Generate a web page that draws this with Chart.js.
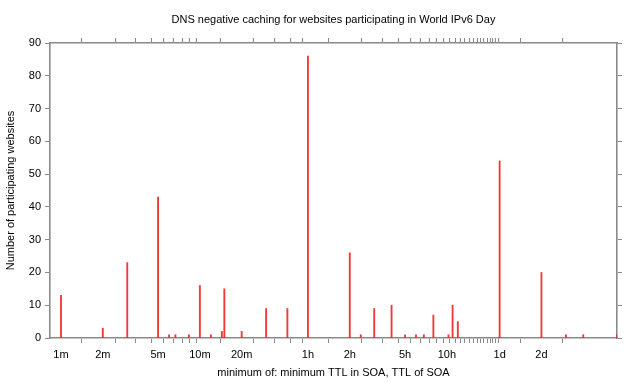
<!DOCTYPE html>
<html>
<head>
<meta charset="utf-8">
<script src="https://cdn.jsdelivr.net/npm/chart.js@4/dist/chart.umd.min.js"></script>
<style>
html,body{margin:0;padding:0;background:#fff;}
canvas{display:block;}
</style>
</head>
<body>
<canvas id="c" width="640" height="384"></canvas>
<script>
// TTL values (seconds) and number of websites with that negative-caching TTL
const ttlSeconds = [60,120,180,300,360,400,500,600,720,864,900,1200,1800,2560,3600,7200,8640,10800,14400,18000,21600,24600,28800,37000,39600,43200,86400,172800,259200,345600,604800];
const websiteCounts = [13,3,23,43,1,1,1,16,1,2,15,2,9,9,86,26,1,9,10,1,1,1,7,1,10,5,54,20,1,1,1];

// tick positions (seconds) and labels
const tickSeconds = [60,120,180,240,300,360,420,480,540,600,1200,1800,2400,3000,
  3600,7200,10800,14400,18000,21600,25200,28800,32400,36000,39600,43200,46800,50400,54000,57600,61200,64800,68400,72000,75600,79200,82800,86400,172800];
const tickLabelValues = [60,120,300,600,1200,3600,7200,18000,36000,86400,172800];
const tickLabelTexts = ['1m','2m','5m','10m','20m','1h','2h','5h','10h','1d','2d'];
const yTicks = [0,10,20,30,40,50,60,70,80,90];

const X_MIN = 50, X_MAX = 604800;
const FONT = "'Liberation Sans', Arial, Helvetica, sans-serif";
const AXIS = '#8a8a8a';

function labelFor(v){
  const i = tickLabelValues.indexOf(v);
  return i >= 0 ? tickLabelTexts[i] : '';
}
function setTicks(scale){
  scale.ticks = tickSeconds.map(v => ({value: v}));
}
const gridCfg = {display:true, drawOnChartArea:false, drawTicks:true, tickLength:5, color:AXIS, lineWidth:1};
const borderCfg = {display:true, color:AXIS, width:1.6};

new Chart(document.getElementById('c'), {
  type: 'bar',
  data: {
    datasets: [{
      data: ttlSeconds.map((t,i) => ({x:t, y:websiteCounts[i]})),
      backgroundColor: 'rgba(240,20,20,0.85)',
      borderWidth: 0,
      barThickness: 1.2,
      xAxisID: 'x',
      yAxisID: 'y'
    }]
  },
  options: {
    responsive: false,
    animation: false,
    devicePixelRatio: 1,
    layout: {padding: 0},
    plugins: {legend:{display:false}, tooltip:{enabled:false}, title:{display:false}},
    scales: {
      x: {
        type: 'logarithmic', position: 'bottom', min: X_MIN, max: X_MAX,
        afterBuildTicks: setTicks,
        afterFit: s => { s.height = 46; },
        grid: gridCfg, border: borderCfg,
        ticks: {autoSkip:false, maxRotation:0, minRotation:0, padding:5, color:'#000',
          font:{family:FONT, size:11}, callback: v => labelFor(v)},
        title: {display:true, text:'minimum of: minimum TTL in SOA, TTL of SOA', color:'#000',
          font:{family:FONT, size:11}, padding:{top:0, bottom:4}}
      },
      x2: {
        type: 'logarithmic', position: 'top', min: X_MIN, max: X_MAX,
        afterBuildTicks: setTicks,
        afterFit: s => { s.height = 43; },
        grid: gridCfg, border: borderCfg,
        ticks: {autoSkip:false, maxRotation:0, minRotation:0, padding:0, color:'#000',
          font:{family:FONT, size:11}, callback: () => ''},
        title: {display:true, text:'DNS negative caching for websites participating in World IPv6 Day', color:'#000',
          font:{family:FONT, size:11}, padding:{top:13, bottom:0}}
      },
      y: {
        type: 'linear', position: 'left', min: 0, max: 90,
        afterBuildTicks: s => { s.ticks = yTicks.map(v => ({value:v})); },
        afterFit: s => { s.width = 50; },
        grid: gridCfg, border: borderCfg,
        ticks: {padding:4, color:'#000', font:{family:FONT, size:11}},
        title: {display:true, text:'Number of participating websites', color:'#000',
          font:{family:FONT, size:11}, padding:{top:4, bottom:0}}
      },
      y2: {
        type: 'linear', position: 'right', min: 0, max: 90,
        afterBuildTicks: s => { s.ticks = yTicks.map(v => ({value:v})); },
        afterFit: s => { s.width = 23; },
        grid: gridCfg, border: borderCfg,
        ticks: {padding:0, callback: () => ''}
      }
    }
  }
});
</script>
</body>
</html>
